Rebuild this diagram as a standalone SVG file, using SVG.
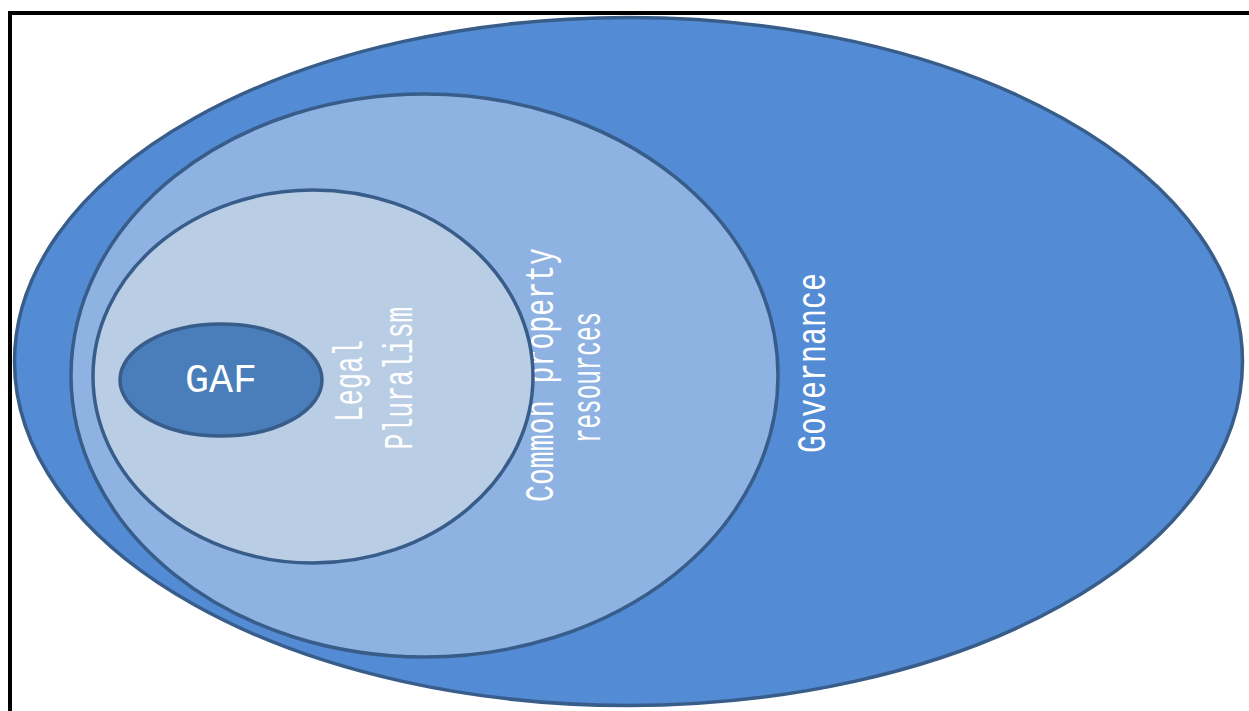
<svg xmlns="http://www.w3.org/2000/svg" width="1249" height="711" viewBox="0 0 1249 711">
<style>
.e{stroke:#385D8A;stroke-width:3.5}
.t{font-family:"Liberation Mono","Courier New",monospace;font-size:40px;fill:#ffffff;text-anchor:middle}
</style>
<rect x="0" y="0" width="1249" height="711" fill="#ffffff"/>
<rect x="10" y="13" width="1260" height="720" fill="none" stroke="#000000" stroke-width="4"/>
<g id="governance">
<ellipse class="e" cx="628.5" cy="361.5" rx="614" ry="344" fill="#538CD4"/>
<text class="t" transform="translate(825,363) rotate(-90)" textLength="180" lengthAdjust="spacingAndGlyphs">Governance</text>
</g>
<g id="common-property">
<ellipse class="e" cx="424.5" cy="375.5" rx="353.5" ry="281.5" fill="#8EB3E2"/>
<text class="t" transform="translate(553,375) rotate(-90)" textLength="254" lengthAdjust="spacingAndGlyphs">Common property</text>
<text class="t" transform="translate(600,377.5) rotate(-90)" textLength="131" lengthAdjust="spacingAndGlyphs">resources</text>
</g>
<g id="legal-pluralism">
<ellipse class="e" cx="313" cy="376.5" rx="220" ry="186.5" fill="#B9CDE5"/>
<text class="t" transform="translate(362,381) rotate(-90)" textLength="82" lengthAdjust="spacingAndGlyphs">Legal</text>
<text class="t" transform="translate(412,378) rotate(-90)" textLength="143" lengthAdjust="spacingAndGlyphs">Pluralism</text>
</g>
<g id="gaf">
<ellipse class="e" cx="221" cy="380" rx="101" ry="56" fill="#4A7EBB"/>
<text class="t" x="221" y="392" textLength="72" lengthAdjust="spacingAndGlyphs">GAF</text>
</g>
<g id="connectors"/>
</svg>
